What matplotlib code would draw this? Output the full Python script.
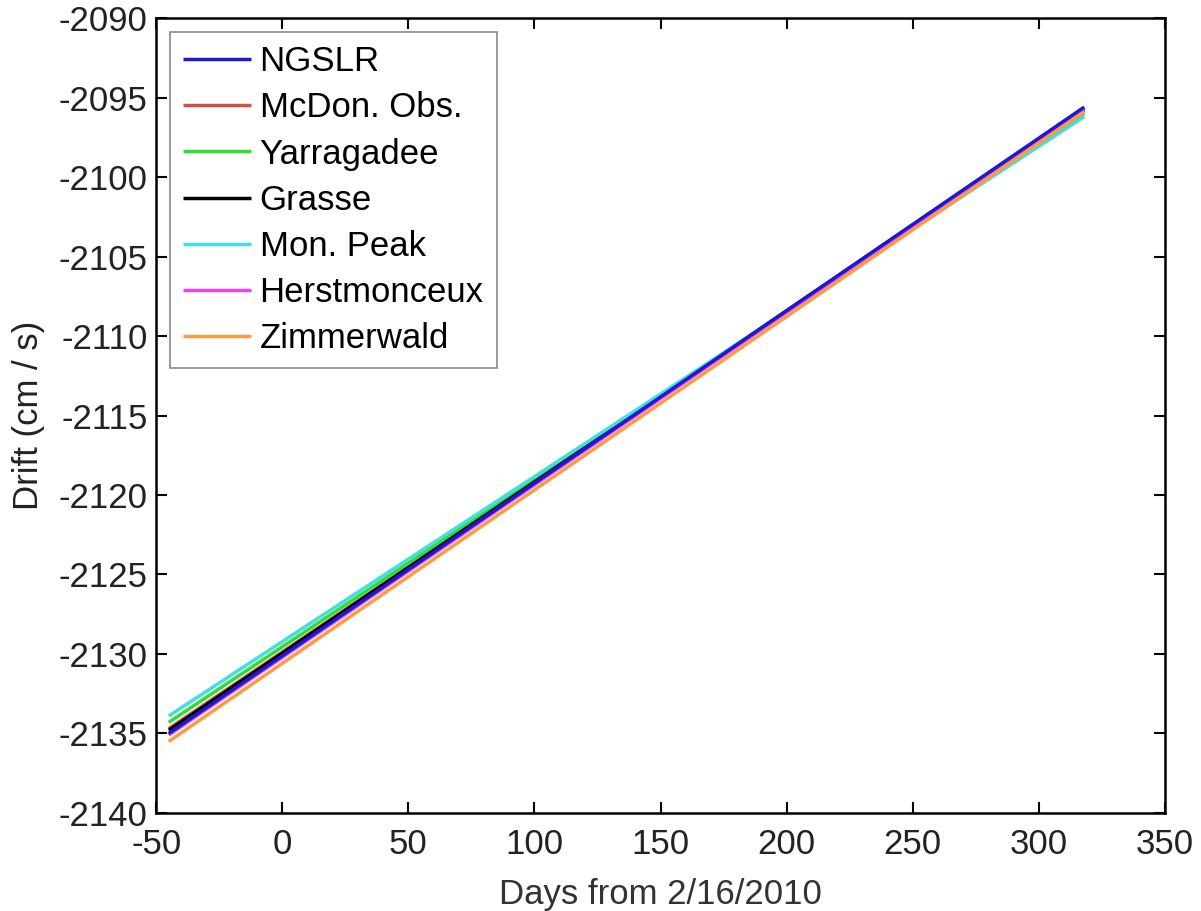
import matplotlib.pyplot as plt

# stations and the drift line end points
stations = ['NGSLR', 'McDon. Obs.', 'Yarragadee', 'Grasse', 'Mon. Peak', 'Herstmonceux', 'Zimmerwald']
colors = ['#1a1ad0', '#d0504a', '#30dd30', '#000000', '#40e0e0', '#f040f0', '#ff9a40']
days = [-45, 318]
drift_start = [-2135.0, -2134.7, -2134.3, -2134.8, -2133.9, -2135.1, -2135.5]
drift_end = [-2095.6, -2095.8, -2096.0, -2095.7, -2096.2, -2095.7, -2095.9]

xticks = [-50, 0, 50, 100, 150, 200, 250, 300, 350]
yticks = [-2140, -2135, -2130, -2125, -2120, -2115, -2110, -2105, -2100, -2095, -2090]

plt.rcParams['font.family'] = ['Liberation Sans', 'DejaVu Sans']
plt.rcParams['axes.unicode_minus'] = False

fig = plt.figure(figsize=(12.01, 9.11), dpi=100)
ax = fig.add_axes([0.130, 0.1076, 0.840, 0.8726])

# NGSLR drawn on top
for i in range(len(stations)):
    z = 10 if i == 0 else 3 + i * 0.1
    ax.plot(days, [drift_start[i], drift_end[i]], color=colors[i], lw=2.5,
            label=stations[i], zorder=z, solid_capstyle='butt')

ax.set_xlim(-50, 350)
ax.set_ylim(-2140, -2090)
ax.set_xticks(xticks)
ax.set_yticks(yticks)
ax.tick_params(direction='in', top=True, right=True, labelsize=25, length=8,
               width=1.5, labelcolor='#222222')
ax.tick_params(axis='x', pad=11)
ax.tick_params(axis='y', pad=6)
for s in ax.spines.values():
    s.set_linewidth(1.8)
ax.set_xlabel('Days from 2/16/2010', fontsize=25, color='#333333', labelpad=12)
ax.set_ylabel('Drift (cm / s)', fontsize=25, color='#222222', labelpad=10)

leg = ax.legend(loc='upper left', fontsize=25, fancybox=False, framealpha=1,
                edgecolor='#888888', handlelength=1.95, labelspacing=0.38,
                borderaxespad=0.4, handletextpad=0.25, borderpad=0.38)
leg.get_frame().set_linewidth(1.2)

fig.savefig('out.png', dpi=100)
